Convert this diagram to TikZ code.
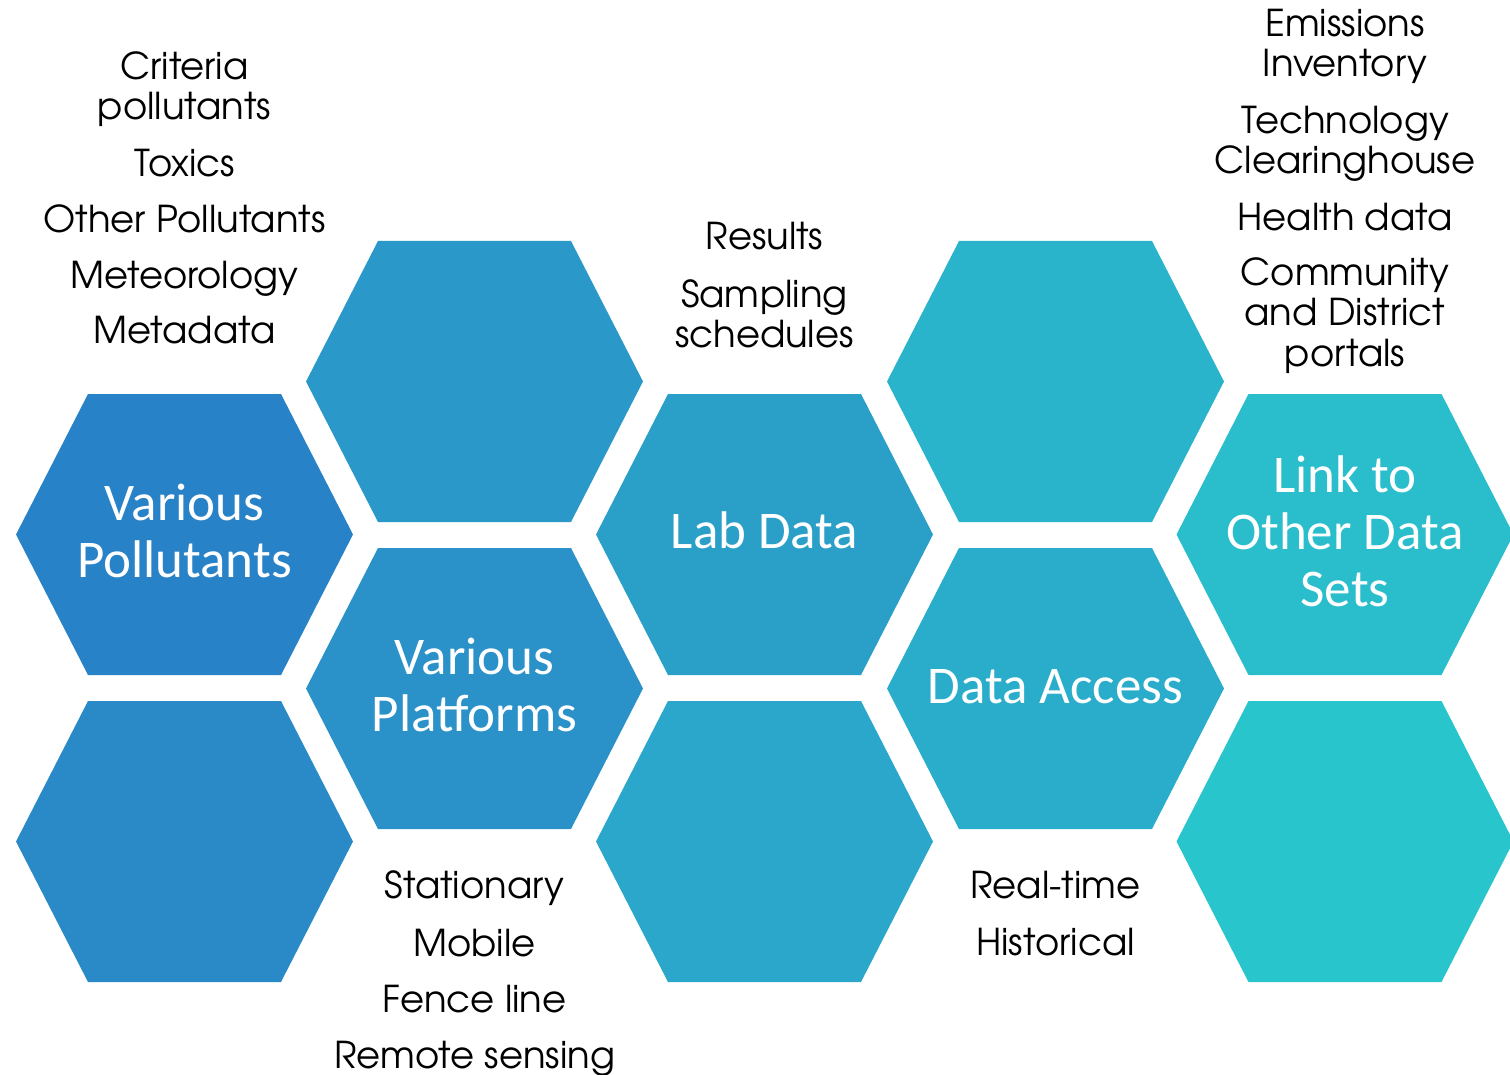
\documentclass[tikz,border=0pt]{standalone}
\usepackage{fontspec}
\newfontfamily\labfont{TeX Gyre Adventor}
\newfontfamily\hexfont{Carlito}
\definecolor{hA}{HTML}{2882C7}
\definecolor{hB}{HTML}{2A8AC8}
\definecolor{hC}{HTML}{2A98C8}
\definecolor{hD}{HTML}{2A92C8}
\definecolor{hE}{HTML}{2AA0C9}
\definecolor{hF}{HTML}{2AA7CA}
\definecolor{hG}{HTML}{2AB4CC}
\definecolor{hH}{HTML}{2AADCB}
\definecolor{hI}{HTML}{2ABECD}
\definecolor{hJ}{HTML}{29C5CC}
\tikzset{
  lab/.style={inner sep=0pt, anchor=base, font=\labfont\fontsize{37}{40}\selectfont, text=black},
  hexlab/.style={inner sep=0pt, anchor=base, font=\hexfont\fontsize{53}{57}\selectfont, text=white},
}
\newcommand\drawhex[3]{%
  \fill[#3] (#1,#2) ++(-168.5,0) -- ++(72,-140.5) -- ++(193,0) -- ++(72,140.5)
    -- ++(-72,140.5) -- ++(-193,0) -- cycle;}
\begin{document}
\begin{tikzpicture}[x=1pt,y=-1pt]
\useasboundingbox (0,0) rectangle (1510,1075);
\clip (0,0) rectangle (1510,1075);
% hexagons
\drawhex{184.5}{534.5}{hA}
\drawhex{184.5}{841.5}{hB}
\drawhex{474.5}{381.5}{hC}
\drawhex{474.5}{688.5}{hD}
\drawhex{764.5}{534.5}{hE}
\drawhex{764.5}{841.5}{hF}
\drawhex{1055.5}{381.5}{hG}
\drawhex{1055.5}{688.5}{hH}
\drawhex{1345}{534.5}{hI}
\drawhex{1345}{841.5}{hJ}
% hexagon labels
\node[hexlab] (vp1) at (184.5,520) {Various};
\node[hexlab] (vp2) at (184.5,577) {Pollutants};
\node[hexlab] (pl1) at (474.5,674) {Various};
\node[hexlab] (pl2) at (474.5,731) {Platforms};
\node[hexlab] (lab) at (764.5,548) {Lab Data};
\node[hexlab] (acc) at (1055.5,703) {Data Access};
\node[hexlab] (lk1) at (1345,492) {Link to};
\node[hexlab] (lk2) at (1345,549) {Other Data};
\node[hexlab] (lk3) at (1345,606) {Sets};
% left labels
\node[lab] (a1) at (184.5,80) {Criteria};
\node[lab] (a2) at (184.5,120) {pollutants};
\node[lab] (a3) at (184.5,177) {Toxics};
\node[lab] (a4) at (184.5,233) {Other Pollutants};
\node[lab] (a5) at (184.5,289) {Meteorology};
\node[lab] (a6) at (184.5,344) {Metadata};
% middle labels
\node[lab] (b1) at (764.5,250) {Results};
\node[lab] (b2) at (764.5,308) {Sampling};
\node[lab] (b3) at (764.5,347) {schedules};
% right labels
\node[lab] (c1) at (1345,37) {Emissions};
\node[lab] (c2) at (1345,77) {Inventory};
\node[lab] (c3) at (1345,134) {Technology};
\node[lab] (c4) at (1345,174) {Clearinghouse};
\node[lab] (c5) at (1345,231) {Health data};
\node[lab] (c6) at (1345,286) {Community};
\node[lab] (c7) at (1345,326) {and District};
\node[lab] (c8) at (1345,366) {portals};
% bottom labels
\node[lab] (d1) at (474.5,898) {Stationary};
\node[lab] (d2) at (474.5,956) {Mobile};
\node[lab] (d3) at (474.5,1012) {Fence line};
\node[lab] (d4) at (474.5,1068) {Remote sensing};
\node[lab] (e1) at (1055.5,898) {Real-time};
\node[lab] (e2) at (1055.5,955) {Historical};
\end{tikzpicture}
\end{document}
